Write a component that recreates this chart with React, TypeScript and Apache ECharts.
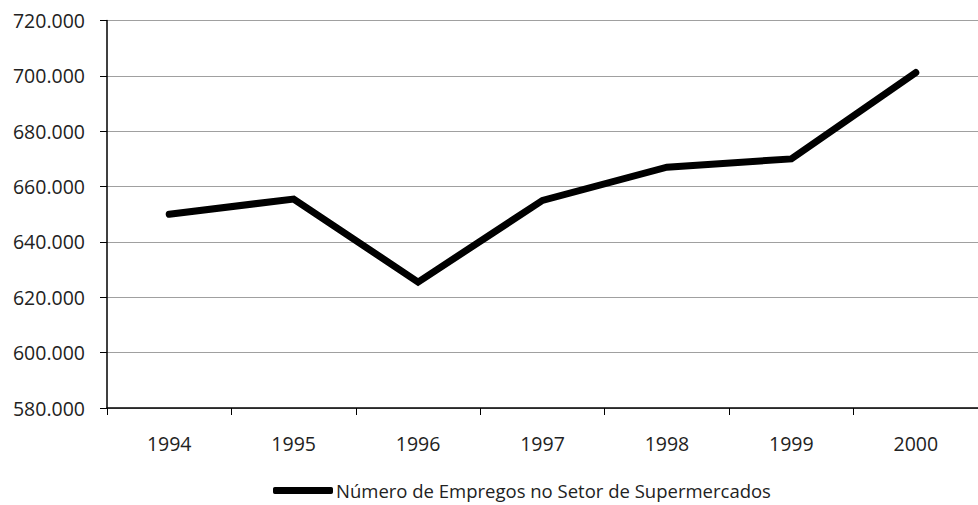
import React, { useEffect, useRef } from "react";
import * as echarts from "echarts";

const years = ["1994", "1995", "1996", "1997", "1998", "1999", "2000"];
const empregos = [650000, 655500, 625500, 655000, 667000, 670000, 701200];
const seriesName = "Número de Empregos no Setor de Supermercados";

const fmt = (v: number) =>
  String(Math.round(v)).replace(/\B(?=(\d{3})+(?!\d))/g, ".");

const FONT = "'Open Sans', 'DejaVu Sans', sans-serif";

export default function App() {
  const ref = useRef<HTMLDivElement>(null);
  useEffect(() => {
    if (!ref.current) return;
    const chart = echarts.init(ref.current, null, { renderer: "svg" });
    chart.setOption({
      animation: false,
      backgroundColor: "#ffffff",
      textStyle: { fontFamily: FONT },
      grid: { left: 107, right: 0, top: 20.5, bottom: 97, containLabel: false },
      legend: {
        bottom: 0,
        left: 268,
        itemWidth: 60,
        itemHeight: 7,
        itemGap: 4,
        icon: "roundRect",
        textStyle: { fontFamily: FONT, fontSize: 18.5, color: "#222", padding: [0, 0, 0, -2] },
        data: [{ name: seriesName, icon: "roundRect" }],
      },
      xAxis: {
        type: "category",
        data: years,
        boundaryGap: true,
        axisLine: { lineStyle: { color: "#000", width: 1.5 } },
        axisTick: { show: true, length: 7, lineStyle: { color: "#000" } },
        axisLabel: { margin: 25, fontSize: 19.5, color: "#222", fontFamily: FONT },
        splitLine: { show: false },
      },
      yAxis: {
        type: "value",
        min: 580000,
        max: 720000,
        interval: 20000,
        axisLine: { show: true, lineStyle: { color: "#000", width: 1.5 } },
        axisTick: { show: true, length: 7, lineStyle: { color: "#000" } },
        axisLabel: {
          margin: 22,
          fontSize: 19.5,
          color: "#222",
          fontFamily: FONT,
          formatter: (v: number) => fmt(v),
        },
        splitLine: { show: true, lineStyle: { color: "#a0a0a0", width: 1 } },
      },
      series: [
        {
          name: seriesName,
          type: "line",
          data: empregos,
          symbol: "none",
          lineStyle: { color: "#000", width: 7, cap: "round", join: "miter" },
          itemStyle: { color: "#000" },
        },
      ],
    });
    return () => chart.dispose();
  }, []);
  return <div ref={ref} style={{ width: 978, height: 505, position: "absolute", left: 0, top: 0 }} />;
}
